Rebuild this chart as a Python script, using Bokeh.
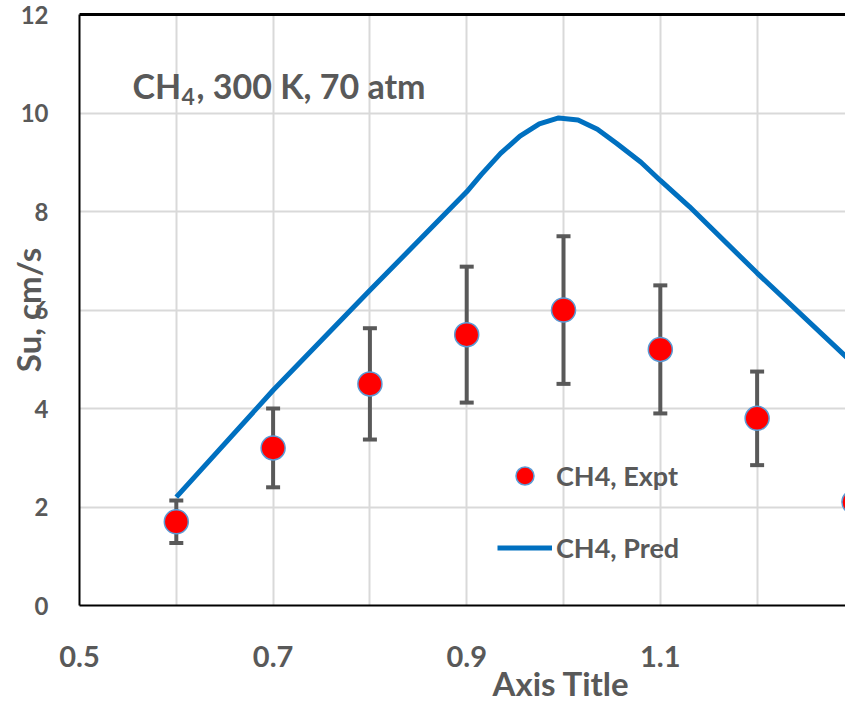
from bokeh.plotting import figure
from bokeh.models import (ColumnDataSource, Range1d, FixedTicker, LinearAxis, Whisker,
                          TeeHead, Label, Legend, LegendItem, Title)
from bokeh.embed import file_html
from bokeh.resources import INLINE

# ---------------- data ----------------
phi_expt = [0.6, 0.7, 0.8, 0.9, 1.0, 1.1, 1.2, 1.3]
su_expt = [1.7, 3.2, 4.5, 5.5, 6.0, 5.2, 3.8, 2.1]
su_err = [0.43, 0.80, 1.13, 1.38, 1.50, 1.30, 0.95, 0.53]

phi_pred = [0.60, 0.70, 0.80, 0.90, 0.915, 0.935, 0.955, 0.975, 0.995, 1.015, 1.035,
            1.055, 1.08, 1.10, 1.13, 1.20, 1.30]
su_pred = [2.20, 4.37, 6.40, 8.40, 8.75, 9.18, 9.53, 9.78, 9.90, 9.86, 9.67,
           9.38, 9.00, 8.63, 8.10, 6.75, 4.90]

x_tick_values = [0.5, 0.7, 0.9, 1.1, 1.3]
x_grid_values = [0.6, 0.7, 0.8, 0.9, 1.0, 1.1, 1.2]
y_tick_values = [0, 2, 4, 6, 8, 10, 12]
y_grid_values = [2, 4, 6, 8, 10]

title_main = "CH"
title_sub = "4"
title_rest = ", 300 K, 70 atm"
x_title = "Axis Title"
y_title = "Su, cm/s"
name_expt = "CH4, Expt"
name_pred = "CH4, Pred"

# ---------------- style ----------------
FONT = "Lato"
TXT = "#595959"
GRID = "#d9d9d9"

src = ColumnDataSource(dict(
    x=phi_expt, y=su_expt,
    upper=[v + e for v, e in zip(su_expt, su_err)],
    lower=[v - e for v, e in zip(su_expt, su_err)],
))
src_pred = ColumnDataSource(dict(x=phi_pred, y=su_pred))

p = figure(width=845, height=710,
           x_range=Range1d(0.5, 1.2913), y_range=Range1d(0, 12),
           output_backend="svg", toolbar_location=None,
           min_border_left=79, min_border_right=0, min_border_top=14, min_border_bottom=105,
           outline_line_color=None, background_fill_color="white", border_fill_color="white")

# axes
p.xaxis.ticker = FixedTicker(ticks=x_tick_values)
p.yaxis.ticker = FixedTicker(ticks=y_tick_values)
for ax in (p.xaxis, p.yaxis):
    ax.axis_line_color = "black"
    ax.axis_line_width = 2
    ax.major_tick_line_color = None
    ax.minor_tick_line_color = None
    ax.major_tick_out = 0
    ax.major_tick_in = 0
    ax.major_label_text_font = FONT
    ax.major_label_text_font_style = "bold"
    ax.major_label_text_color = TXT
p.xaxis.major_label_text_font_size = "29px"
p.yaxis.major_label_text_font_size = "24px"
p.xaxis.major_label_standoff = 40
p.yaxis.major_label_standoff = 31

p.yaxis.axis_label = y_title
p.yaxis.axis_label_text_font = FONT
p.yaxis.axis_label_text_font_style = "bold"
p.yaxis.axis_label_text_font_size = "33px"
p.yaxis.axis_label_text_color = TXT
p.yaxis.axis_label_standoff = -30

top = LinearAxis(ticker=FixedTicker(ticks=[]), axis_line_color="black", axis_line_width=3,
                 major_tick_line_color=None, minor_tick_line_color=None,
                 major_label_text_font_size="0px")
p.add_layout(top, "above")

# x-axis title (placed off-centre as in the reference)
xt = Title(text=x_title, align="left", offset=413, standoff=-18,
           text_font=FONT, text_font_style="bold", text_font_size="33px", text_color=TXT)
p.add_layout(xt, "below")

# grids
p.xgrid.ticker = FixedTicker(ticks=x_grid_values)
p.ygrid.ticker = FixedTicker(ticks=y_grid_values)
p.grid.grid_line_color = GRID
p.grid.grid_line_width = 2

# error bars
wh = Whisker(base="x", upper="upper", lower="lower", source=src,
             line_color=TXT, line_width=4, level="underlay",
             upper_head=TeeHead(size=14, line_color=TXT, line_width=4),
             lower_head=TeeHead(size=14, line_color=TXT, line_width=4))
p.add_layout(wh)

r_pred = p.line("x", "y", source=src_pred, line_color="#0070c0", line_width=5)
r_expt = p.scatter("x", "y", source=src, size=24, fill_color="#ff0000",
                   line_color="#5b9bd5", line_width=1.5)

legend = Legend(items=[LegendItem(label=name_expt, renderers=[r_expt]),
                       LegendItem(label=name_pred, renderers=[r_pred])],
                location=(418, 35), border_line_color=None, background_fill_alpha=0,
                label_text_font=FONT, label_text_font_size="27px", label_text_font_style="bold",
                label_text_color=TXT, glyph_width=55, glyph_height=45, label_height=45,
                spacing=27, padding=0, margin=0, label_standoff=4)
p.add_layout(legend)

# in-plot title
lab_kw = dict(text_font=FONT, text_font_style="bold", text_color=TXT, text_baseline="alphabetic")
p.add_layout(Label(x=0.5548, y=10.56, text=title_main, text_font_size="34px", **lab_kw))
p.add_layout(Label(x=0.6054, y=10.34, text=title_sub, text_font_size="23px", **lab_kw))
p.add_layout(Label(x=0.6209, y=10.56, text=title_rest, text_font_size="34px", **lab_kw))

open("out.html", "w").write(file_html(p, INLINE))
